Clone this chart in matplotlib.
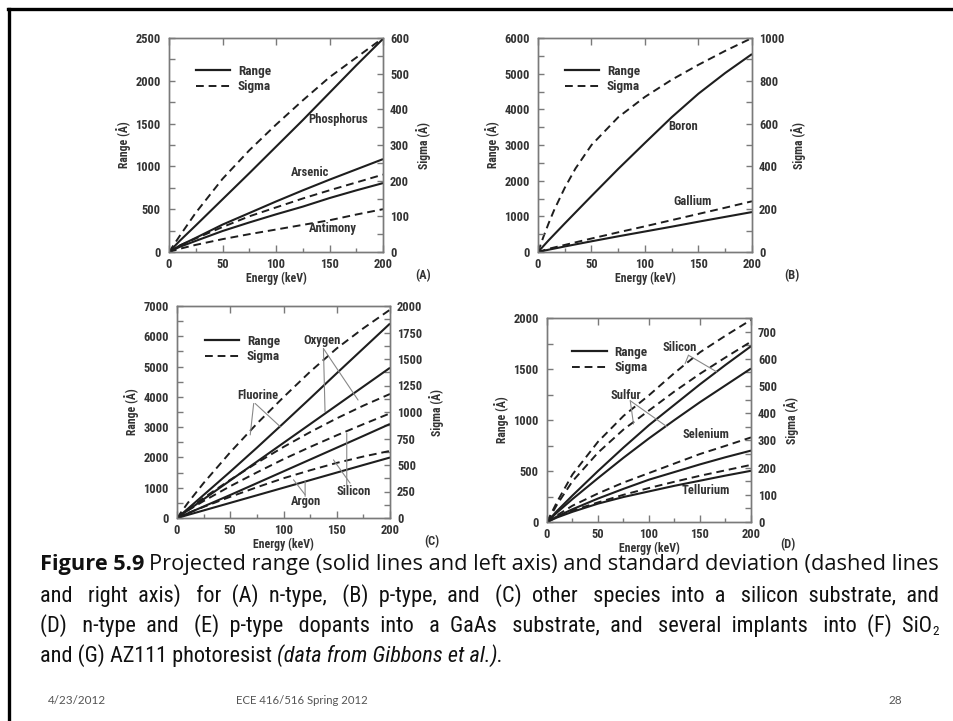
import matplotlib
matplotlib.use('Agg')
import matplotlib.pyplot as plt
from matplotlib import font_manager as fm
from matplotlib.lines import Line2D
from matplotlib.ticker import MultipleLocator

# ---------------- data ----------------
energy = [0, 10, 25, 50, 75, 100, 125, 150, 175, 200]
energy_fine = [0, 5, 10, 15, 25, 35, 50, 75, 100, 125, 150, 175, 200]

# (A) n-type into Si
p_range = [0, 130, 310, 615, 920, 1230, 1540, 1860, 2180, 2490]
p_sigma = [0, 45, 110, 205, 285, 357, 425, 490, 545, 600]
as_range = [0, 75, 165, 320, 455, 590, 720, 845, 965, 1085]
as_sigma = [0, 18, 38, 70, 100, 125, 150, 173, 195, 217]
sb_range = [0, 60, 130, 245, 345, 440, 530, 630, 720, 805]
sb_sigma = [0, 9, 20, 36, 50, 63, 76, 89, 105, 120]

# (B) p-type into Si
b_range = [0, 330, 800, 1570, 2330, 3060, 3780, 4440, 5020, 5550]
b_sigma = [0, 70, 135, 195, 300, 390, 500, 630, 725, 805, 875, 940, 1000]
ga_range = [0, 65, 155, 300, 440, 575, 710, 850, 985, 1120]
ga_sigma = [0, 15, 33, 63, 92, 120, 149, 178, 207, 237]

# (C) other species into Si
f_range = [0, 300, 760, 1530, 2320, 3130, 3950, 4780, 5600, 6420]
f_sigma = [0, 140, 330, 620, 890, 1140, 1380, 1600, 1790, 1965]
o_range = [0, 250, 620, 1240, 1860, 2480, 3100, 3720, 4340, 4960]
o_sigma = [0, 80, 190, 360, 520, 670, 810, 940, 1060, 1170]
si_range = [0, 150, 380, 760, 1150, 1540, 1930, 2320, 2710, 3105]
si_sigma = [0, 70, 160, 300, 430, 555, 670, 780, 885, 987]
ar_range = [0, 100, 250, 500, 750, 1000, 1250, 1500, 1750, 1997]
ar_sigma = [0, 45, 105, 200, 290, 375, 450, 520, 580, 633]

# (D) n-type into GaAs
sid_range = [0, 110, 260, 500, 730, 950, 1150, 1350, 1540, 1723]
sid_sigma = [0, 75, 175, 295, 390, 466, 548, 624, 685, 743]
s_range = [0, 95, 225, 430, 630, 820, 1000, 1175, 1340, 1505]
s_sigma = [0, 65, 150, 255, 340, 410, 480, 545, 605, 663]
se_range = [0, 55, 125, 230, 325, 415, 490, 565, 635, 700]
se_sigma = [0, 25, 60, 105, 145, 180, 215, 250, 280, 311]
te_range = [0, 45, 100, 180, 245, 300, 355, 405, 455, 502]
te_sigma = [0, 20, 42, 72, 100, 125, 148, 170, 190, 210]

caption_lines = [
    "Projected range (solid lines and left axis) and standard deviation (dashed lines",
    "and right axis) for (A) n-type, (B) p-type, and (C) other species into a silicon substrate, and",
    "(D) n-type and (E) p-type dopants into a GaAs substrate, and several implants into (F) SiO",
    "and (G) AZ111 photoresist",
]
footer = ["4/23/2012", "ECE 416/516 Spring 2012", "28"]

# ---------------- fonts ----------------
names = {f.name for f in fm.fontManager.ttflist}
def pick(cands, default='DejaVu Sans'):
    for c in cands:
        if c in names:
            return c
    return default

cond = pick(['Liberation Sans Narrow', 'Roboto Condensed', 'DejaVu Sans'])
capfont = pick(['Open Sans', 'Noto Sans', 'Lato'])
capfont2 = pick(['Liberation Sans Narrow', 'Roboto Condensed', 'Lato'])
footfont = pick(['Lato', 'Open Sans'])

TXT = '#333333'
LINE = '#1e1e1e'
SPINE = '#7a7a7a'
fp = dict(family=cond, weight='bold', color=TXT)

W, H = 954, 721
fig = plt.figure(figsize=(W / 100, H / 100), dpi=100)
fig.patch.set_facecolor('white')

def rect(x0, y0, x1, y1):
    return [x0 / W, 1 - y1 / H, (x1 - x0) / W, (y1 - y0) / H]

def make_panel(r, ymax, ymaj, ymin, y2max, y2maj, y2min):
    ax = fig.add_axes(r)
    ax.set_xlim(0, 200)
    ax.set_ylim(0, ymax)
    ax2 = ax.twinx()
    ax2.set_ylim(0, y2max)
    for a in (ax, ax2):
        for s in a.spines.values():
            s.set_color(SPINE)
            s.set_linewidth(1.0)
    ax.xaxis.set_major_locator(MultipleLocator(50))
    ax.xaxis.set_minor_locator(MultipleLocator(25))
    ax.yaxis.set_major_locator(MultipleLocator(ymaj))
    ax.yaxis.set_minor_locator(MultipleLocator(ymin))
    ax2.yaxis.set_major_locator(MultipleLocator(y2maj))
    ax2.yaxis.set_minor_locator(MultipleLocator(y2min))
    ax.tick_params(axis='x', which='major', direction='in', length=5, width=1,
                   color=SPINE, top=True, pad=4)
    ax.tick_params(axis='x', which='minor', direction='in', length=3, width=1,
                   color=SPINE, top=False)
    ax.tick_params(axis='y', which='both', direction='in', length=4, width=1,
                   color=SPINE, pad=6)
    ax2.tick_params(axis='y', which='both', direction='in', length=4, width=1,
                    color=SPINE, pad=5)
    for lab in ax.get_xticklabels() + ax.get_yticklabels() + ax2.get_yticklabels():
        lab.set_fontfamily(cond)
        lab.set_fontweight('bold')
        lab.set_fontsize(9)
        lab.set_color(TXT)
    ax.set_xlabel('Energy (keV)', fontsize=8.5, labelpad=1, **fp)
    ax.set_ylabel('Range (Å)', fontsize=8.5, labelpad=3, **fp)
    ax2.set_ylabel('Sigma (Å)', fontsize=8.5, labelpad=5, **fp)
    ax.set_zorder(ax2.get_zorder() + 1)
    ax.patch.set_visible(False)
    ax2.patch.set_facecolor('#fcfcfc')
    return ax, ax2

def legend(ax, x0, y0):
    h = [Line2D([], [], color=LINE, lw=1.6, ls='-'),
         Line2D([], [], color=LINE, lw=1.4, ls=(0, (4, 2.5)))]
    ax.legend(h, ['Range', 'Sigma'], loc='upper left', bbox_to_anchor=(x0, y0),
              frameon=False, borderpad=0, borderaxespad=0, handlelength=2.6,
              handletextpad=0.6, labelspacing=0.2,
              prop=dict(family=cond, weight='bold', size=9.5))
    for t in ax.get_legend().get_texts():
        t.set_color(TXT)

def solid(ax, y, x=energy):
    ax.plot(x, y, color=LINE, lw=1.5, ls='-', solid_capstyle='butt')

def dashed(ax, y, x=energy):
    ax.plot(x, y, color=LINE, lw=1.4, ls=(0, (4, 2.5)))

def lab(ax, x, y, s):
    ax.text(x, y, s, ha='center', va='center', fontsize=9, **fp)

def leader(ax, p0, p1):
    ax.annotate('', xy=p1, xytext=p0,
                arrowprops=dict(arrowstyle='-', color='#888888', lw=0.8,
                                shrinkA=0, shrinkB=0))

def plabel(x, y, s):
    fig.text(x / W, 1 - y / H, s, ha='center', va='center', fontsize=9, **fp)

# ---- Panel A ----
axA, axA2 = make_panel(rect(169, 38, 383, 252), 2500, 500, 250, 600, 100, 50)
solid(axA, p_range); solid(axA, as_range); solid(axA, sb_range)
dashed(axA2, p_sigma); dashed(axA2, as_sigma); dashed(axA2, sb_sigma)
lab(axA, 158, 1546, 'Phosphorus')
lab(axA, 132, 923, 'Arsenic')
lab(axA, 153, 276, 'Antimony')
legend(axA, 0.125, 0.875)
plabel(423, 276, '(A)')

# ---- Panel B ----
axB, axB2 = make_panel(rect(538, 38, 752, 252), 6000, 1000, 500, 1000, 200, 100)
solid(axB, b_range); solid(axB, ga_range)
dashed(axB2, b_sigma, energy_fine); dashed(axB2, ga_sigma)
lab(axB, 136, 3515, 'Boron')
lab(axB, 144, 1425, 'Gallium')
legend(axB, 0.125, 0.875)
plabel(792, 276, '(B)')

# ---- Panel C ----
axC, axC2 = make_panel(rect(177, 306, 390, 518), 7000, 1000, 500, 2000, 250, 125)
for r in (f_range, o_range, si_range, ar_range):
    solid(axC, r)
for s in (f_sigma, o_sigma, si_sigma, ar_sigma):
    dashed(axC2, s)
lab(axC, 136, 5870, 'Oxygen')
lab(axC, 75.6, 4060, 'Fluorine')
lab(axC, 121, 549, 'Argon')
lab(axC, 165.6, 878, 'Silicon')
leader(axC, (137.5, 5595), (139, 3510))
leader(axC, (137.5, 5595), (170, 3895))
leader(axC, (72, 3781), (68.75, 2743))
leader(axC, (73.4, 3781), (96.9, 3017))
leader(axC, (120.3, 713), (120.3, 1207))
leader(axC, (120.3, 768), (109.4, 1262))
leader(axC, (159.4, 1042), (159.4, 2798))
leader(axC, (162.5, 1152), (146.9, 1920))
legend(axC, 0.13, 0.865)
plabel(432, 542, '(C)')

# ---- Panel D ----
axD, axD2 = make_panel(rect(547, 318, 751, 522), 2000, 500, 250, 750, 100, 50)
for r in (sid_range, s_range, se_range, te_range):
    solid(axD, r)
for s in (sid_sigma, s_sigma, se_sigma, te_sigma):
    dashed(axD2, s)
lab(axD, 130.5, 1707, 'Silicon')
lab(axD, 77.6, 1244, 'Sulfur')
lab(axD, 155.6, 853, 'Selenium')
lab(axD, 155.6, 309, 'Tellurium')
leader(axD, (138.7, 1635), (135.4, 1554))
leader(axD, (138.7, 1635), (166.4, 1472))
leader(axD, (81.6, 1189), (84.8, 961))
leader(axD, (81.6, 1189), (117.5, 935))
legend(axD, 0.125, 0.865)
plabel(788, 545, '(D)')

# ---------------- slide frame ----------------
fig.add_artist(Line2D([9 / W, 9 / W], [0, 1 - 9 / H], transform=fig.transFigure,
                      color='black', lw=2.4))
fig.add_artist(Line2D([8 / W, 1], [1 - 9 / H, 1 - 9 / H], transform=fig.transFigure,
                      color='black', lw=2.4))

# ---------------- caption ----------------
renderer = fig.canvas.get_renderer()
X0 = 40
X1 = 940
base = [570, 602, 632, 662]   # baselines (px from top)
CAP = '#111111'

# line 1 (bold lead + regular text), fitted to the slide width
s1 = 13.0
t1 = fig.text(X0 / W, 1 - base[0] / H, 'Figure 5.9', fontsize=s1, family=capfont,
              weight='bold', color=CAP, va='baseline', ha='left')
t1b = fig.text(0, 1 - base[0] / H, caption_lines[0], fontsize=s1,
               family=capfont, color=CAP, va='baseline', ha='left')
gap = 5
for _ in range(3):
    t1.set_fontsize(s1); t1b.set_fontsize(s1)
    bb = t1.get_window_extent(renderer)
    t1b.set_x((bb.x1 + gap) / W)
    right = t1b.get_window_extent(renderer).x1
    s1 = s1 * (X1 - X0 - gap) / (right - X0 - gap)
t1.set_fontsize(s1); t1b.set_fontsize(s1)
bb = t1.get_window_extent(renderer)
t1b.set_x((bb.x1 + gap) / W)

# lines 2-3: narrow face, sized to fit (capped), justified by padding spaces
def width_of(s, size):
    t = fig.text(0, 0, s, fontsize=size, family=capfont2)
    w = t.get_window_extent(renderer).width
    t.remove()
    return w

nat = width_of(caption_lines[1], 13.0)
S2 = min(13.0 * (X1 - X0) / nat, 16.0)

def spread(text, target, size):
    words = text.split(' ')
    ngaps = len(words) - 1
    sp = (width_of('a' + ' ' * 20 + 'a', size) - width_of('aa', size)) / 20
    extra = target - width_of(text, size)
    n = max(0, int(round(extra / sp)))
    counts = [1 + n // ngaps] * ngaps
    r = n % ngaps
    for j in range(r):
        counts[int(j * ngaps / r)] += 1
    out = words[0]
    for c, w in zip(counts, words[1:]):
        out += ' ' * c + w
    return out

l2 = spread(caption_lines[1], X1 - X0, S2)
fig.text(X0 / W, 1 - base[1] / H, l2, fontsize=S2, family=capfont2, color=CAP,
         va='baseline', ha='left')
l3 = spread(caption_lines[2], X1 - 7 - X0, S2)
t3 = fig.text(X0 / W, 1 - base[2] / H, l3, fontsize=S2, family=capfont2,
              color=CAP, va='baseline', ha='left')
b2 = t3.get_window_extent(renderer)
fig.text((b2.x1 + 0.5) / W, 1 - (base[2] + 3) / H, '2', fontsize=S2 * 0.6,
         family=capfont2, color=CAP, va='baseline', ha='left')

t4 = fig.text(X0 / W, 1 - base[3] / H, caption_lines[3], fontsize=S2,
              family=capfont2, color=CAP, va='baseline', ha='left')
b3 = t4.get_window_extent(renderer)
fig.text((b3.x1 + 5) / W, 1 - base[3] / H, '(data from Gibbons et al.).',
         fontsize=S2, family=capfont2, style='italic', color=CAP,
         va='baseline', ha='left')

fig.text(48 / W, 1 - 700 / H, footer[0], fontsize=8.5, family=footfont,
         color='#555555', va='center', ha='left')
fig.text(236 / W, 1 - 700 / H, footer[1], fontsize=8.2, family=footfont,
         color='#555555', va='center', ha='left')
fig.text(902 / W, 1 - 700 / H, footer[2], fontsize=8.5, family=footfont,
         color='#555555', va='center', ha='right')

fig.savefig('out.png', dpi=100, facecolor='white')
